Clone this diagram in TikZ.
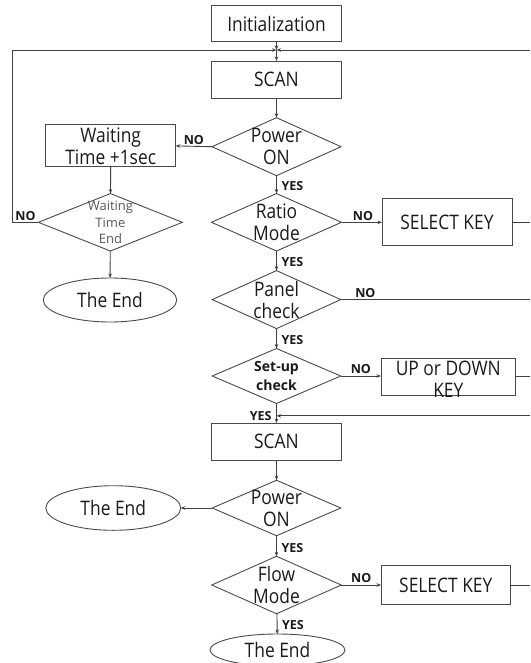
\documentclass[tikz,border=0pt]{standalone}
\usepackage{fontspec}
\setmainfont{Open Sans}[FakeStretch=0.87]
\newfontfamily\labelfont{Open Sans}
\usetikzlibrary{shapes.geometric,arrows.meta}
\definecolor{linecol}{HTML}{404040}
\definecolor{boxcol}{HTML}{4A4A4A}
\definecolor{textcol}{HTML}{1A1A1A}
\definecolor{softtext}{HTML}{5A5A5A}
\begin{document}
\begin{tikzpicture}[x=1pt,y=-1pt,
  every node/.style={inner sep=0pt, outer sep=0pt},
  txt/.style={font=\fontsize{20}{22}\selectfont, text=textcol, align=center},
  smalltxt/.style={font=\labelfont\fontsize{13}{16.2}\selectfont, text=softtext, align=center},
  boldtxt/.style={font=\labelfont\fontsize{14}{19}\selectfont\bfseries, text=textcol, align=center},
  proc/.style={draw=boxcol, line width=0.9pt, rectangle, txt},
  dec/.style={draw=boxcol, line width=0.9pt, diamond},
  term/.style={draw=boxcol, line width=0.9pt, ellipse, txt},
  lab/.style={font=\labelfont\fontsize{12.5}{14}\selectfont\bfseries, text=textcol, inner sep=2pt},
  ln/.style={draw=linecol, line width=0.9pt},
  arr/.style={ln, -{Stealth[length=4.5pt,width=3.5pt]}}]

\fill[white] (0,0) rectangle (530,663);
\useasboundingbox (0,0) rectangle (530,663);

% main column, first part
\node[proc, minimum width=130, minimum height=36] (init) at (276.5,23.7) {Initialization};
\node[proc, minimum width=130, minimum height=37] (scan1) at (276.5,79.5) {SCAN};
\node[dec, minimum width=129, minimum height=58,
      label={[txt]center:{Power\\ON}}] (p1) at (276.5,146.7) {};
\node[dec, minimum width=130, minimum height=57.5,
      label={[txt]center:{Ratio\\Mode}}] (ratio) at (276.5,222.3) {};
\node[dec, minimum width=128.5, minimum height=58,
      label={[txt]center:{Panel\\check}}] (panel) at (276.5,299.6) {};
\node[dec, minimum width=128.5, minimum height=55,
      label={[boldtxt]center:{Set-up\\check}}] (setup) at (276.5,376) {};

% waiting branch on the left
\node[proc, minimum width=130, minimum height=42,
      label={[txt]center:{Waiting\\Time +1sec}}] (wait) at (110.7,145.9) {};
\node[dec, minimum width=144, minimum height=57.5,
      label={[smalltxt]center:{Waiting\\Time\\End}}] (wte) at (110.4,222.3) {};
\node[term, minimum width=133.5, minimum height=44] (end1) at (110,300) {The End};

% key boxes on the right
\node[proc, minimum width=130, minimum height=47] (sel1) at (447,222.3) {SELECT KEY};
\node[proc, minimum width=134.6, minimum height=36.3,
      label={[txt, yshift=-2.5pt]center:{UP or DOWN\\KEY}}] (updown) at (448.3,376.8) {};

% main column, second part
\node[proc, minimum width=129.5, minimum height=37] (scan2) at (276.5,441.6) {SCAN};
\node[dec, minimum width=128.5, minimum height=55.5,
      label={[txt]center:{Power\\ON}}] (p2) at (276.5,508) {};
\node[term, minimum width=135, minimum height=44.6] (end2) at (113.3,508) {The End};
\node[dec, minimum width=129.5, minimum height=57.5,
      label={[txt]center:{Flow\\Mode}}] (flow) at (276.5,585) {};
\node[proc, minimum width=129.5, minimum height=39] (sel2) at (445.8,585) {SELECT KEY};
\node[term, minimum width=135, minimum height=32] (end3) at (277.5,650) {The End};

% junctions and loose ends
\coordinate (J1) at (276.5,50);
\coordinate (J2) at (276.5,415.8);
\coordinate (lc) at (12.5,222.3);
\coordinate (rT) at (530,50);
\coordinate (r1) at (530,222.3);
\coordinate (r2) at (530,299.6);
\coordinate (r3) at (530,376.3);
\coordinate (rJ) at (530,415.8);
\coordinate (r4) at (530,585);

% connectors
\draw[arr] (init) -- (J1);
\draw[arr] (J1) -- (scan1);
\draw[arr] (rT) -- (J1);
\draw[arr] (wte.west) -- node[lab, above]{NO} (lc) |- (J1);
\draw[arr] (scan1) -- (p1);
\draw[arr] (p1.west) -- node[lab, above]{NO} (wait.east);
\draw[arr] (wait) -- (wte);
\draw[arr] (wte) -- (end1);
\draw[arr] (p1) -- node[lab, right=3pt, pos=0.6]{YES} (ratio);
\draw[arr] (ratio) -- node[lab, above, pos=0.53]{NO} (sel1);
\draw[ln] (sel1) -- (r1);
\draw[arr] (ratio) -- node[lab, right=3pt, pos=0.55]{YES} (panel);
\draw[ln] (panel.east) -- node[lab, above, pos=0.13]{NO} (r2);
\draw[arr] (panel) -- node[lab, right=3pt, pos=0.55]{YES} (setup);
\draw[arr] (setup.east) -- node[lab, above]{NO} (setup.east -| updown.west);
\draw[ln] (updown.east |- r3) -- (r3);
\draw[arr] (setup) -- node[lab, left=3pt, pos=0.66]{YES} (scan2);
\draw[arr] (rJ) -- (J2);
\draw[arr] (scan2) -- (p2);
\draw[arr] (p2) -- (end2);
\draw[arr] (p2) -- node[lab, right=3pt, pos=0.6]{YES} (flow);
\draw[arr] (flow) -- node[lab, above]{NO} (sel2);
\draw[ln] (sel2) -- (r4);
\draw[arr] (flow) -- node[lab, right=3pt, pos=0.55]{YES} (end3);

\end{tikzpicture}
\end{document}
